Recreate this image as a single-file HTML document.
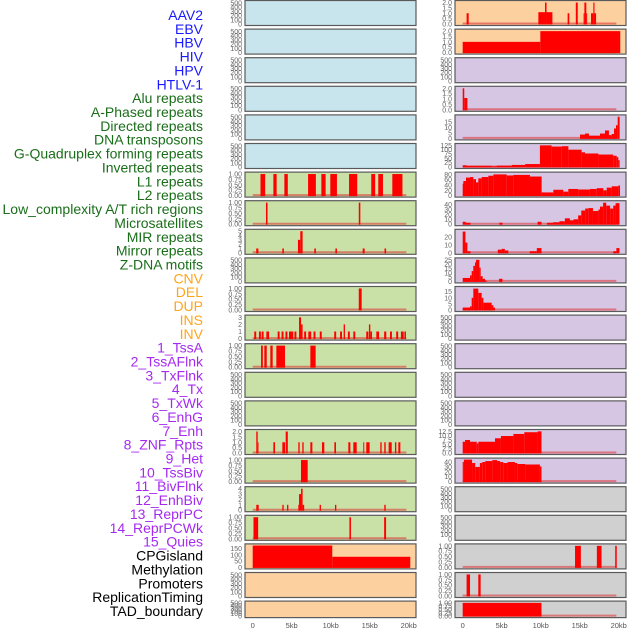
<!DOCTYPE html>
<html><head><meta charset="utf-8"><style>
body{margin:0;background:#fff;width:630px;height:630px;overflow:hidden}
svg{display:block;font-family:"Liberation Sans",sans-serif}
</style></head><body>
<svg id="chart" width="630" height="630" viewBox="0 0 630 630"></svg>
<script>
const trackNames=["AAV2","EBV","HBV","HIV","HPV","HTLV-1","Alu repeats","A-Phased repeats","Directed repeats","DNA transposons","G-Quadruplex forming repeats","Inverted repeats","L1 repeats","L2 repeats","Low_complexity A/T rich regions","Microsatellites","MIR repeats","Mirror repeats","Z-DNA motifs","CNV","DEL","DUP","INS","INV","1_TssA","2_TssAFlnk","3_TxFlnk","4_Tx","5_TxWk","6_EnhG","7_Enh","8_ZNF_Rpts","9_Het","10_TssBiv","11_BivFlnk","12_EnhBiv","13_ReprPC","14_ReprPCWk","15_Quies","CPGisland","Methylation","Promoters","ReplicationTiming","TAD_boundary"];
const labelColors=["#1a1aff","#1a1aff","#1a1aff","#1a1aff","#1a1aff","#1a1aff","#1a6e1a","#1a6e1a","#1a6e1a","#1a6e1a","#1a6e1a","#1a6e1a","#1a6e1a","#1a6e1a","#1a6e1a","#1a6e1a","#1a6e1a","#1a6e1a","#1a6e1a","#ffa51a","#ffa51a","#ffa51a","#ffa51a","#ffa51a","#a52af0","#a52af0","#a52af0","#a52af0","#a52af0","#a52af0","#a52af0","#a52af0","#a52af0","#a52af0","#a52af0","#a52af0","#a52af0","#a52af0","#a52af0","#000","#000","#000","#000","#000"];
const panelBg=["#c8e4ec","#c8e4ec","#c8e4ec","#c8e4ec","#c8e4ec","#c8e4ec","#c9e1a6","#c9e1a6","#c9e1a6","#c9e1a6","#c9e1a6","#c9e1a6","#c9e1a6","#c9e1a6","#c9e1a6","#c9e1a6","#c9e1a6","#c9e1a6","#c9e1a6","#fdd0a0","#fdd0a0","#fdd0a0",
"#fdd0a0","#fdd0a0","#d6c6e3","#d6c6e3","#d6c6e3","#d6c6e3","#d6c6e3","#d6c6e3","#d6c6e3","#d6c6e3","#d6c6e3","#d6c6e3","#d6c6e3","#d6c6e3","#d6c6e3","#d6c6e3","#d6c6e3","#d0d0d0","#d0d0d0","#d0d0d0","#d0d0d0","#d0d0d0"];
const T500=["0","100","200","300","400","500"], T1=["0.00","0.25","0.50","0.75","1.00"], T2=["0.0","0.5","1.0","1.5","2.0"];
const tickLabels=[T500,T500,T500,T500,T500,T500,T1,T1,["0","1","2","3","4","5"],T500,T1,["0","1","2","3"],T1,T500,T500,T2,T1,["0","1","2","3","4"],T1,["0","50","100","150"],T500,T500,
T2,T2,T500,T2,["0","5","10","15"],["0","25","50","75","100","125"],["0","20","40","60","80"],["0","10","20","30","40"],["0","10","20"],["0","5","10","15","20","25"],["0","5","10","15"],T500,T500,T500,T500,["0.0","2.5","5.0","7.5","10.0","12.5"],["0","10","20","30","40"],T500,T500,T1,T1,T1];
const yMax=[520,520,520,520,520,520,1.02,1.02,5.1,520,1.02,3.1,1.02,520,520,2.05,1.02,4.1,1.02,176,520,520,
2.05,2.05,520,2.05,20,127,83,45,28,25.5,18,520,520,520,520,12.7,45,520,520,1.02,1.02,1.02];
// segments: [startKb, endKb, value]
const segAlu=[[1.0,1.6,1],[2.65,3.07,1],[4.06,4.5,1],[7.1,8.1,1],[8.8,9.35,1],[9.95,10.8,1],[12.35,13.4,1],[15.2,15.7,1],[16.1,16.7,1],[17.9,19.2,1]];
const segAPhased=[[1.7,1.9,1],[13.6,13.8,1]];
const segDirected=[[0.45,0.73,1],[3.8,4.0,1],[5.8,6.1,3],[6.1,6.4,5],[7.9,8.1,1],[10.6,10.8,1],[14.1,14.35,1],[16.9,17.1,1]];
const segGQuad=[[13.6,13.97,1]];
const segInverted=[[0.2,0.45,1],[0.8,1.05,1],[1.15,1.4,1],[1.75,2.1,1],[3.2,3.45,1],[3.7,3.95,1],[4.2,4.45,1],[4.65,5.2,1],[5.35,5.6,1],[5.94,6.2,3],[6.2,6.4,2],[6.6,6.85,1],[7.13,7.5,1],[7.8,8.05,1],[8.6,8.85,1],[10.45,10.7,1],[11.2,11.45,1],[11.66,11.83,2],[12.2,12.45,1],[12.9,13.15,1],[14.56,14.83,1],[14.9,15.08,2],[15.08,15.3,1],[15.85,16.2,1],[16.85,17.13,1],[17.6,17.85,1],[18.4,18.65,1],[19.0,19.36,1],[19.45,19.65,1]];
const segL1=[[1.07,1.3,1],[1.49,1.8,1],[2.26,2.56,1],[3.03,4.14,1],[7.39,8.07,1]];
const segMicro=[[0.46,0.64,2],[0.64,0.72,1],[2.65,2.86,1],[3.8,4.14,1],[4.23,4.5,2],[5.85,6.02,1],[6.36,6.53,1],[7.39,7.65,1],[8.88,9.18,1],[10.47,10.68,1],[12.26,12.52,1],[12.9,13.33,1],[14.18,14.3,1],[14.56,14.99,1],[16.36,16.53,1],[16.87,17.05,1],[17.43,17.82,1],[18.24,18.41,1],[18.67,18.93,1]];
const segMIR=[[6.19,7.05,1]];
const segMirror=[[0.46,0.77,1],[3.8,3.97,1],[4.4,4.57,1],[5.85,5.94,1],[5.94,6.2,3],[6.2,6.4,4],[6.4,6.6,1],[8.58,8.75,1],[10.55,10.72,1],[16.87,17.05,1]];
const segZDNA=[[0.1,0.7,1],[12.4,12.6,1],[16.85,17.1,1]];
const segCNV=[[0,10.2,175],[10.2,20.2,85]];
const segINS=[[0.5,0.77,1],[9.7,10.55,1.1],[10.55,10.75,2],[10.75,11.5,1.1],[13.45,13.67,1],[14.5,14.75,2],[15.5,15.6,1],[15.6,15.85,2],[15.85,15.95,1],[16.45,16.75,1],[16.75,16.9,2],[16.9,17.1,1]];
const segINV=[[0,9.95,1],[9.95,20.2,2]];
const segTssAFlnk=[[0,0.2,2],[0.2,0.6,1.1]];
const segTxWk=[[15.04,15.68,3.5],[15.68,16.19,4.4],[16.19,17.6,2.5],[17.6,18.24,4.4],[18.24,18.75,7.2],[18.75,19.1,3],[19.1,19.4,4],[19.4,19.65,9],[19.65,19.87,12],[19.87,20.12,19.7]];
const segEnhG=[[0,0.5,10],[0.5,3.7,7],[3.7,4.35,4],[4.35,6.3,8],[6.3,8.0,12],[8.0,9.9,17],[9.9,11.4,125],[11.4,12.7,118],[12.7,13.55,120],[13.55,15.25,100],[15.25,15.68,85],[15.68,17.4,78],[17.4,19.3,72],[19.3,19.74,65],[19.74,19.95,57],[19.95,20.12,40]];
const segEnh=[[0,0.08,45],[0.08,0.42,55],[0.42,0.94,68],[0.94,1.36,70],[1.36,1.71,62],[1.71,2.0,50],[2.0,2.43,65],[2.43,3.29,70],[3.29,3.93,75],[3.93,5.64,80],[5.64,6.49,76],[6.49,8.63,78],[8.63,10.12,72],[10.12,11.62,12],[11.62,12.9,22],[12.9,13.54,15],[13.54,14.82,25],[14.82,16.3,23],[16.3,17.18,25],[17.18,18.03,28],[18.03,18.46,20],[18.46,19.1,30],[19.1,19.95,35],[19.95,20.17,38]];
const segZNF=[[0,0.4,5],[0.4,1.0,3],[4.7,5.1,3],[9.6,10.1,5],[10.8,11.6,3],[11.6,12.4,4],[12.4,13.1,6],[13.1,13.75,12],[13.75,14.2,8],[14.2,14.8,10],[14.8,15.2,18],[15.2,15.7,28],[15.7,16.1,32],[16.1,16.7,33],[16.7,17.4,27],[17.4,17.6,30],[17.6,18.0,36],[18.0,18.4,44],[18.4,18.9,38],[18.9,19.3,32],[19.3,19.6,38],[19.6,20.1,43]];
const segHet=[[0,0.35,27],[0.35,0.6,13],[0.6,1.0,2],[4.5,5.0,4],[5.0,5.4,5],[5.4,5.85,3],[8.6,9.5,2],[9.5,10.1,6],[19.3,19.7,2],[19.7,20.1,6]];
const segTssBiv=[[0,0.94,4],[0.94,1.15,7],[1.15,1.36,12],[1.36,1.58,18],[1.58,1.71,22],[1.71,2.14,25],[2.14,2.3,16],[2.3,2.56,6],[2.56,2.86,3],[2.86,3.07,1],[4.66,5.1,3]];
const segBivFlnk=[[0,0.94,2],[0.94,1.15,3],[1.15,1.36,10],[1.36,2.0,17.5],[2.0,2.43,14],[2.43,2.65,10],[2.65,3.71,6],[3.71,3.93,4],[3.93,4.14,2]];
const segReprPCWk=[[0,0.3,6.5],[0.3,0.94,7.5],[0.94,1.8,6.5],[1.8,2.0,5.5],[2.0,4.14,6.5],[4.14,4.9,8.5],[4.9,6.5,9.8],[6.5,7.9,11],[7.9,9.6,12],[9.6,10.1,12.5]];
const segQuies=[[0,0.15,40],[0.15,1.2,45],[1.2,1.6,38],[1.6,2.2,30],[2.2,2.5,38],[2.5,2.9,40],[2.9,3.8,42],[3.8,4.4,44],[4.4,4.8,42],[4.8,5.2,40],[5.2,5.75,38],[5.75,6.7,40],[6.7,7.0,38],[7.0,8.0,36],[8.0,9.9,35],[9.9,10.1,31]];
const segPromoters=[[14.4,15.15,1],[17.2,17.8,1],[19.55,19.75,1]];
const segReplication=[[0.5,0.94,1],[2.0,2.3,1]];
const segTAD=[[0,10.1,1]];
const segments=[[],[],[],[],[],[],segAlu,segAPhased,segDirected,[],segGQuad,segInverted,segL1,[],[],segMicro,segMIR,segMirror,segZDNA,segCNV,[],[],
segINS,segINV,[],segTssAFlnk,segTxWk,segEnhG,segEnh,segZNF,segHet,segTssBiv,segBivFlnk,[],[],[],[],segReprPCWk,segQuies,[],[],segPromoters,segReplication,segTAD];
const xTicks=[0,5,10,15,20], xTickLabels=["0","5kb","10kb","15kb","20kb"];

const NS="http://www.w3.org/2000/svg";
const svg=document.getElementById('chart');
function mk(tag,attrs,parent){const e=document.createElementNS(NS,tag);for(const k in attrs)e.setAttribute(k,attrs[k]);(parent||svg).appendChild(e);return e;}

// labels
trackNames.forEach((n,i)=>{
  const t=mk('text',{x:203,y:20+i*13.86,'text-anchor':'end','font-size':14,fill:labelColors[i]});
  
  
  t.textContent=n;
});

const colX=[245,455], colZero=[252.7,462.7], kbPx=7.8, panelW=171;
function xScale(col,kb){return colZero[col]+kb*kbPx;}
for(let p=0;p<44;p++){
  const col=p<22?0:1, row=p%22;
  const top=row*28.6+0.5, h=row===21?16.5:25;
  const bottom=top+h;
  const g=mk('g',{});
  
  
  mk('rect',{x:colX[col],y:top,width:panelW,height:h,fill:panelBg[p],stroke:'#5a5a5a','stroke-width':1.2},g);
  const yS=v=>bottom-1.5-v/yMax[p]*(h-3);
  const segs=segments[p];
  if(segs.length){
    const bl=mk('line',{x1:xScale(col,0),x2:xScale(col,19.7),y1:yS(0)-0.5,y2:yS(0)-0.5,stroke:'rgba(220,60,60,0.6)','stroke-width':2},g);
    
    
  }
  segs.forEach(s=>{
    const x1=xScale(col,s[0]),x2=xScale(col,s[1]);
    const y=Math.max(top+0.5,yS(s[2]));
    const r=mk('rect',{x:x1,y:y,width:Math.max(0.8,x2-x1),height:yS(0)-y+0.5,fill:'#ff0000'},g);
    
    
  });
  const tl=tickLabels[p];
  tl.forEach(lbl=>{
    const v=parseFloat(lbl);
    const t=mk('text',{x:colX[col]-3,y:yS(v)+2.5,'text-anchor':'end','font-size':7,fill:'#666'},g);
    
    
    t.textContent=lbl;
  });
}
// x axes
for(let col=0;col<2;col++){
  xTicks.forEach((k,i)=>{
    const t=mk('text',{x:xScale(col,k),y:628,'text-anchor':'middle','font-size':7.5,fill:'#555'});
    
    
    t.textContent=xTickLabels[i];
  });
}
</script>
</body></html>
